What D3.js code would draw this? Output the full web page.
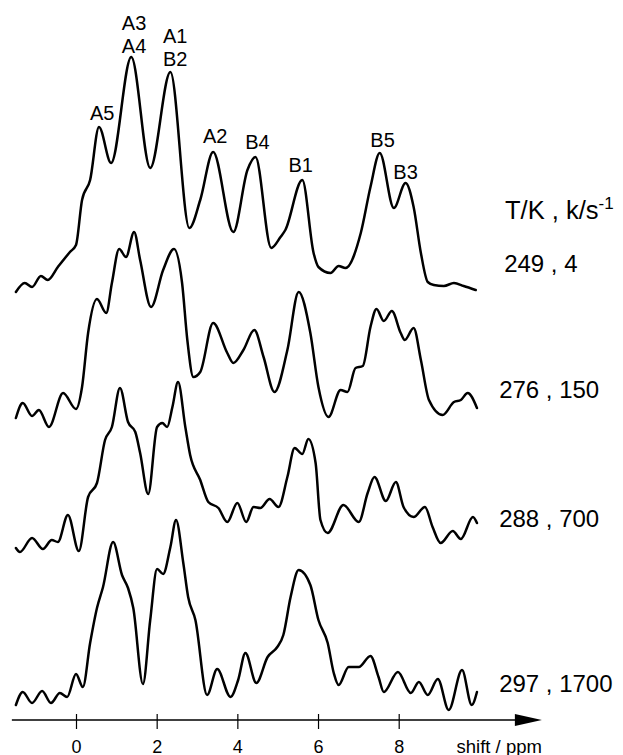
<!DOCTYPE html>
<html><head><meta charset="utf-8">
<script src="https://cdn.jsdelivr.net/npm/d3@7"></script>
<style>
body{margin:0;background:#fff}
svg{display:block}
text{font-family:"Liberation Sans",Arial,Helvetica,sans-serif;fill:#000}
</style>
</head><body>
<svg id="chart" width="623" height="755"></svg>
<script>
// ---------- data ----------
const tickValues = [0, 2, 4, 6, 8];
const axisTitle = "shift / ppm";
const legendTitle = "T/K , k/s";
const legendSup = "-1";
const traceLabels = ["249 , 4", "276 , 150", "288 , 700", "297 , 1700"];

const ppm249 = [-1.49,-1.27,-1.09,-0.87,-0.70,-0.45,-0.15,0,0.15,0.35,0.57,0.87,1.37,1.84,2.34,2.81,3.08,3.40,3.90,4.25,4.45,4.84,5.07,5.19,5.61,5.89,6.01,6.31,6.51,6.68,7.06,7.30,7.53,7.88,8.17,8.37,8.55,8.72,8.87,9.12,9.37,9.61,9.91];
const int249 = [0,9,5,16,12,25,40,47,92,112,165,129,235,124,220,64,92,140,60,122,135,44,55,62,112,39,25,19,26,24,59,105,139,84,109,85,39,10,7,6,9,6,2];

const ppm276 = [-1.49,-1.32,-1.09,-0.92,-0.67,-0.32,0,0.15,0.30,0.52,0.75,0.89,1.07,1.24,1.44,1.59,1.86,2.16,2.43,2.63,2.76,2.91,3.08,3.40,3.75,3.90,4.15,4.42,4.65,4.92,5.24,5.52,5.81,6.01,6.26,6.56,6.73,6.93,7.11,7.30,7.45,7.63,7.83,8.05,8.15,8.37,8.55,8.75,9.09,9.37,9.54,9.71,9.94];
const int276 = [0,15,2,8,-9,25,9,31,85,119,105,135,169,161,186,158,111,148,169,135,78,41,46,95,65,55,68,88,61,26,68,126,85,31,1,28,26,50,52,91,109,97,107,85,78,90,58,18,3,16,18,25,10];

const ppm288 = [-1.49,-1.39,-1.09,-0.82,-0.60,-0.45,-0.20,0.07,0.30,0.52,0.72,0.89,1.09,1.29,1.47,1.59,1.79,2.01,2.14,2.26,2.39,2.53,2.71,2.83,3.08,3.28,3.53,3.75,4.00,4.22,4.40,4.57,4.80,5.02,5.24,5.42,5.61,5.76,5.94,6.06,6.24,6.63,7.01,7.23,7.40,7.68,7.93,8.12,8.37,8.65,8.84,9.04,9.34,9.54,9.84,9.94];
const int288 = [0,-4,10,-1,8,6,33,-3,51,65,108,121,160,126,116,95,54,121,125,121,141,166,121,93,68,46,40,26,45,26,41,40,49,41,71,100,94,109,85,28,15,43,26,55,71,47,66,41,31,41,21,5,17,9,31,25];

const ppm297 = [-1.49,-1.32,-1.09,-0.84,-0.62,-0.40,-0.22,0,0.17,0.35,0.52,0.67,0.92,1.14,1.29,1.42,1.66,1.84,2.01,2.16,2.34,2.48,2.66,2.78,2.96,3.25,3.50,3.83,4.02,4.20,4.47,4.75,4.99,5.14,5.32,5.52,5.81,6.01,6.24,6.39,6.51,6.76,7.01,7.30,7.50,7.63,7.98,8.30,8.50,8.72,8.97,9.24,9.57,9.81,9.94];
const int297 = [0,13,2,14,2,12,8,31,18,62,97,118,163,130,117,97,21,85,136,131,158,185,142,108,85,10,36,8,25,52,22,48,58,70,108,135,120,85,62,32,20,38,38,49,28,13,33,12,23,10,26,-5,35,0,13];

const peakNames = ["A5","A3","A4","A1","B2","A2","B4","B1","B5","B3"];
const peakPpm = [0.65,1.44,1.44,2.46,2.46,3.45,4.50,5.57,7.60,8.17];
const peakLabelHeight = [172,262,239,249,226,149,143,120,145,113];

// ---------- layout ----------
const layout = {
  traceOffsets: [413, 287, 157, 0],
  labelLift: [20, 20, 21, 13],
  labelShift: [5, 0, 0, 0],
  labelPpm: 10.49,
  axisY: 720,
  axisStart: -1.59,
  arrowBase: 10.88,
  arrowTip: 11.55
};

const traces = [
  {ppm: ppm249, val: int249},
  {ppm: ppm276, val: int276},
  {ppm: ppm288, val: int288},
  {ppm: ppm297, val: int297}
];

const svg = d3.select("#chart");
const x = d3.scaleLinear().domain([0, 8]).range([76, 398.7]);
const y = d3.scaleLinear().domain([0, 700]).range([705, 5]);

// traces
traces.forEach((t, i) => {
  const off = layout.traceOffsets[i];
  const pts = t.ppm.map((p, j) => [p, t.val[j]]);
  const line = d3.line()
    .x(d => x(d[0]))
    .y(d => y(off + d[1]))
    .curve(d3.curveMonotoneX);
  svg.append("path")
    .attr("d", line(pts))
    .attr("fill", "none")
    .attr("stroke", "#000")
    .attr("stroke-width", 2.5)
    .attr("stroke-linejoin", "round")
    .attr("stroke-linecap", "round");
  svg.append("text")
    .attr("x", x(layout.labelPpm) + layout.labelShift[i])
    .attr("y", y(off) - layout.labelLift[i])
    .attr("font-size", 24)
    .text(traceLabels[i]);
});

// peak labels
peakNames.forEach((n, i) => {
  svg.append("text")
    .attr("x", x(peakPpm[i]))
    .attr("y", y(layout.traceOffsets[0] + peakLabelHeight[i]))
    .attr("text-anchor", "middle")
    .attr("font-size", 20)
    .text(n);
});

// legend title
const lt = svg.append("text")
  .attr("x", 505)
  .attr("y", 219)
  .attr("font-size", 25.5)
  .text(legendTitle);
lt.append("tspan")
  .attr("font-size", 17)
  .attr("dy", -10)
  .text(legendSup);

// axis
const axisG = svg.append("g").attr("transform", `translate(0,${layout.axisY})`);
axisG.call(d3.axisBottom(x).tickValues(tickValues).tickSize(9).tickSizeOuter(0));
axisG.select(".domain").remove();
axisG.selectAll(".tick line").attr("y1", -6).attr("stroke", "#000").attr("stroke-width", 1.2);
axisG.selectAll(".tick text")
  .attr("y", 32.5).attr("dy", 0)
  .attr("font-size", 18)
  .attr("font-family", '"Liberation Sans",Arial,Helvetica,sans-serif')
  .attr("fill", "#000");
axisG.append("line")
  .attr("x1", x(layout.axisStart)).attr("x2", x(layout.arrowBase) + 2)
  .attr("y1", 0).attr("y2", 0)
  .attr("stroke", "#000").attr("stroke-width", 1.3);
axisG.append("path")
  .attr("d", `M${x(layout.arrowBase)},-6 L${x(layout.arrowTip)},0 L${x(layout.arrowBase)},6 Z`)
  .attr("fill", "#000");
svg.append("text")
  .attr("x", x(layout.arrowTip))
  .attr("y", 752.5)
  .attr("text-anchor", "end")
  .attr("font-size", 18.5)
  .text(axisTitle);
</script>
</body></html>
